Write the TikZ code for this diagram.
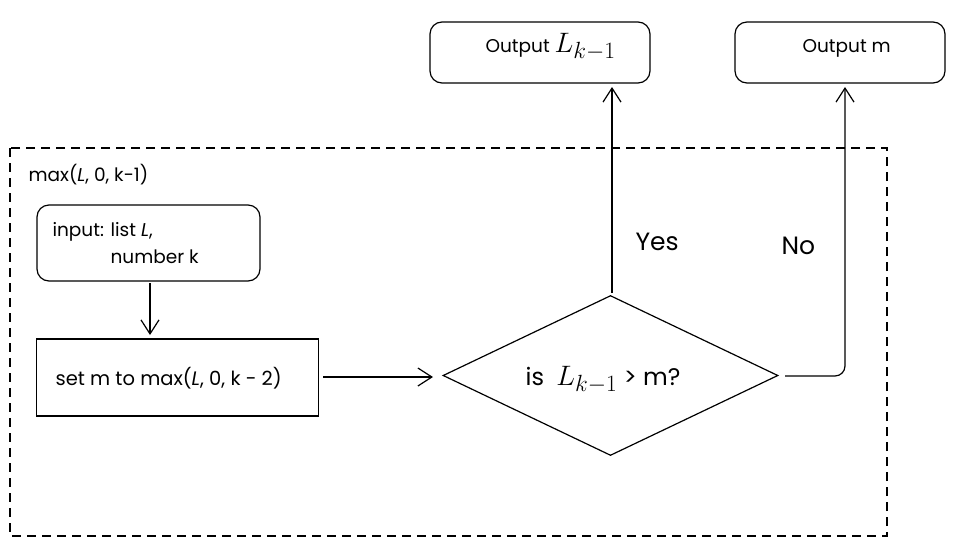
\documentclass[tikz,border=0pt]{standalone}
\usepackage{graphicx}
\usepackage{fontspec}
\setmainfont{Poppins}
\usetikzlibrary{arrows.meta,shapes.geometric}
\begin{document}
\begin{tikzpicture}[x=1pt,y=-1pt,
  line width=1.2pt,
  rbox/.style={draw,rounded corners=12pt,inner sep=0pt},
  pbox/.style={draw,inner sep=0pt},
  lbl/.style={inner sep=0pt,anchor=base west},
  txt/.style={lbl,font=\fontsize{18.5}{21}\selectfont},
  bigtxt/.style={lbl,font=\fontsize{25}{28}\selectfont},
  flow/.style={-{Straight Barb[length=14pt,width=18pt,line width=1.2pt]}},
]
\newcommand{\mathbig}[1]{\scalebox{1.13}{\fontsize{24.88}{28}\selectfont$#1$}}
\useasboundingbox (0,0) rectangle (966,544);
% outer frame for the function body
\draw[dashed,dash pattern=on 9pt off 6pt] (10,148) rectangle (887,536);
\node[txt] (title) at (28,181) {max(\textit{L}, 0, k-1)};
% output boxes
\node[rbox,minimum width=220pt,minimum height=61pt] (outL) at (540,52.5) {};
\node[txt] (outLt) at (485,52) {Output \mathbig{L_{k-1}}};
\node[rbox,minimum width=210pt,minimum height=61pt] (outM) at (840,52.5) {};
\node[txt] (outMt) at (802,52) {Output m};
% input and assignment
\node[rbox,minimum width=223pt,minimum height=76pt] (inp) at (148.5,243) {};
\node[txt] (inp1) at (52,236) {input: list \textit{L},};
\node[txt] (inp2) at (110,263) {number k};
\node[pbox,minimum width=282pt,minimum height=77pt] (setm) at (177.5,377.5) {};
\node[txt,font=\fontsize{19.5}{22}\selectfont] (setmt) at (55,385) {set m to max(\textit{L}, 0, k - 2)};
% decision
\node[diamond,draw,inner sep=0pt,minimum width=335pt,minimum height=160pt,aspect=2.1] (dec) at (610.5,375.5) {};
\node[bigtxt,font=\fontsize{24}{27}\selectfont] (dect) at (525,385) {is\hspace{6pt} \mathbig{L_{k-1}} > m?};
% branch labels
\node[bigtxt] (yes) at (635,250) {Yes};
\node[bigtxt] (no) at (781,254) {No};
% connectors
\coordinate (inpB) at (150,283);
\coordinate (setT) at (150,335);
\draw[flow] (inpB) -- (setT);
\coordinate (setR) at (323,377);
\coordinate (decL) at (433,377);
\draw[flow] (setR) -- (decL);
\coordinate (decT) at (612,293);
\coordinate (outLB) at (612,87);
\draw[flow] (decT) -- (outLB);
\coordinate (decR) at (785,376);
\coordinate (outMB) at (845,87);
\draw[flow,rounded corners=10pt] (decR) -- (845,376) -- (outMB);
\end{tikzpicture}
\end{document}
